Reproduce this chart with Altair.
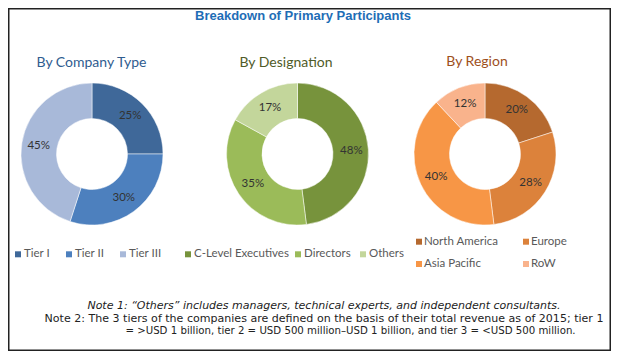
import altair as alt
import pandas as pd

# ---- data ----
company_cats = ["Tier I", "Tier II", "Tier III"]
company_vals = [25, 30, 45]
company_cols = ["#3F6899", "#4D80BE", "#A8B9D9"]

design_cats = ["C-Level Executives", "Directors", "Others"]
design_vals = [48, 35, 17]
design_cols = ["#77933C", "#9BBB59", "#C3D69B"]

region_cats = ["North America", "Europe", "Asia Pacific", "RoW"]
region_vals = [20, 28, 40, 12]
region_cols = ["#B5692F", "#DC823B", "#F79646", "#F9B38C"]

title_text = "Breakdown of Primary Participants"
sub_titles = ["By Company Type", "By Designation", "By Region"]
sub_colors = ["#2F5C8F", "#4F5B28", "#9E4F1C"]
notes = [
    "Note 1: \u201cOthers\u201d includes managers, technical experts, and independent consultants.",
    "Note 2: The 3 tiers of the companies are defined on the basis of their total revenue as of 2015; tier 1",
    "= >USD 1 billion, tier 2 = USD 500 million\u2013USD 1 billion, and tier 3 = <USD 500 million.",
]

W, H = 603, 343
INNER, OUTER, LBL_R = 35.5, 71, 54


def donut(cats, vals, cols, cx, cy):
    df = pd.DataFrame({"cat": cats, "value": vals, "idx": list(range(len(cats)))})
    base = alt.Chart(df).encode(
        theta=alt.Theta("value:Q", stack=True),
        order=alt.Order("idx:Q"),
        x=alt.value(cx),
        y=alt.value(cy),
    )
    arcs = base.mark_arc(innerRadius=INNER, outerRadius=OUTER, stroke="white", strokeWidth=0.5).encode(
        color=alt.Color("cat:N", scale=alt.Scale(domain=cats, range=cols), legend=None)
    )
    labels = base.transform_calculate(lbl="datum.value + '%'").mark_text(
        radius=LBL_R, font="Lato", fontSize=11.5, color="#333333"
    ).encode(text="lbl:N")
    return alt.layer(arcs, labels)


def legend_item(cat, colr, sx, ty, tx):
    d = alt.Data(values=[{"t": cat}])
    sq = alt.Chart(d).mark_square(size=36, color=colr, opacity=1).encode(
        x=alt.value(sx), y=alt.value(ty)
    )
    lb = alt.Chart(d).mark_text(
        align="left", baseline="middle", font="Lato", fontSize=11.5, color="#595959"
    ).encode(text="t:N", x=alt.value(tx), y=alt.value(ty))
    return [sq, lb]


def txt(s, x, y, **kw):
    return alt.Chart(alt.Data(values=[{"t": s}])).mark_text(baseline="middle", align="center", **kw).encode(
        text="t:N", x=alt.value(x), y=alt.value(y)
    )


d1 = donut(company_cats, company_vals, company_cols, 84, 146)
d2 = donut(design_cats, design_vals, design_cols, 289.5, 146)
d3 = donut(region_cats, region_vals, region_cols, 477, 146)

legend_layers = []
# company legend (single row)
for cat, colr, sx in zip(company_cats, company_cols, [10, 61, 115]):
    legend_layers += legend_item(cat, colr, sx, 246.3, sx + 6)
# designation legend (single row)
for cat, colr, sx in zip(design_cats, design_cols, [180, 290, 355]):
    legend_layers += legend_item(cat, colr, sx, 246.3, sx + 6)
# region legend (2 x 2)
for cat, colr, sx, sy in zip(region_cats, region_cols, [411, 518, 411, 518], [233.7, 233.7, 256, 256]):
    legend_layers += legend_item(cat, colr, sx, sy, sx + 5)

title = txt(title_text, 295, 7.5, font="Liberation Sans", fontSize=13, fontWeight="bold", color="#1E6DB6")
s1 = txt(sub_titles[0], 83.5, 55, font="Lato", fontSize=14, color=sub_colors[0])
s2 = txt(sub_titles[1], 278, 55, font="Lato", fontSize=14, color=sub_colors[1])
s3 = txt(sub_titles[2], 469, 54, font="Lato", fontSize=14, color=sub_colors[2])
n1 = txt(notes[0], 316, 298, font="DejaVu Sans", fontSize=11, fontStyle="italic", color="#222222")
n2 = txt(notes[1], 316, 310.7, font="DejaVu Sans", fontSize=11.05, color="#222222")
n3 = txt(notes[2], 342.5, 323, font="DejaVu Sans", fontSize=10.2, color="#222222")

chart = alt.layer(d1, d2, d3, *legend_layers, title, s1, s2, s3, n1, n2, n3).resolve_scale(
    theta="independent", color="independent"
).properties(
    width=W, height=H, autosize=alt.AutoSizeParams(type="none"), padding=0
).configure_view(stroke="#222222", strokeWidth=3)

chart.save("out.html", embed_options={"renderer": "svg", "actions": False})
